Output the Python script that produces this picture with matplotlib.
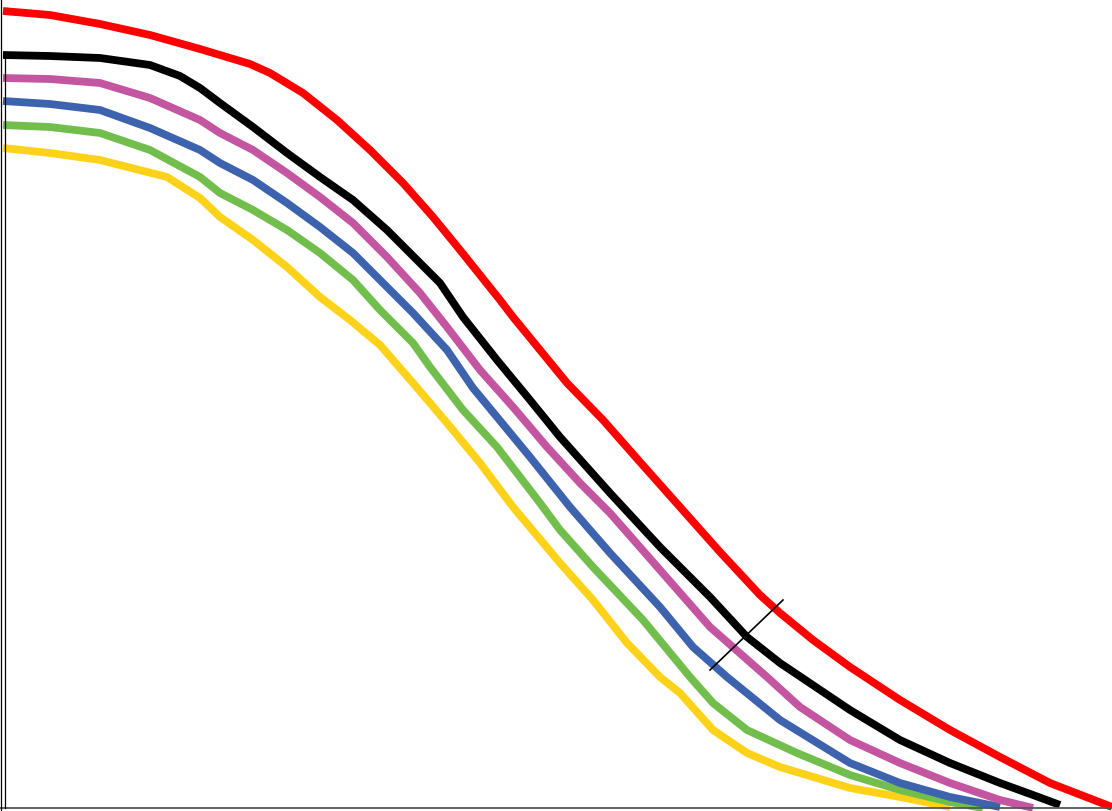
import numpy as np
import matplotlib.pyplot as plt

# pixel positions: x across, y down from the top
red_x = [3, 50, 100, 150, 200, 220, 250, 270, 303, 337, 370, 403, 433, 460, 500, 513, 567, 603, 640, 680, 720, 760, 780, 813, 850, 900, 950, 1000, 1050, 1112]
red_py = [11, 15, 24, 35, 49, 55, 64, 73, 93, 120, 150, 183, 217, 250, 300, 317, 383, 420, 462, 507, 552, 595, 613, 640, 667, 700, 730, 757, 783, 807]

black_x = [3, 50, 100, 150, 180, 200, 220, 253, 287, 320, 353, 387, 420, 440, 463, 497, 530, 560, 610, 660, 710, 747, 780, 850, 900, 950, 1000, 1033, 1060]
black_py = [55, 56, 58, 65, 76, 88, 103, 127, 153, 177, 200, 230, 263, 283, 317, 360, 400, 437, 493, 547, 597, 637, 663, 710, 740, 763, 783, 795, 805]

pink_x = [3, 50, 100, 150, 200, 220, 253, 287, 320, 353, 387, 420, 447, 480, 513, 547, 580, 610, 660, 710, 767, 800, 850, 900, 950, 1000, 1033]
pink_py = [78, 79, 83, 98, 120, 133, 150, 173, 197, 223, 257, 293, 327, 370, 407, 447, 483, 513, 570, 627, 677, 707, 740, 763, 783, 800, 808]

blue_x = [3, 50, 100, 150, 200, 220, 253, 287, 320, 353, 387, 413, 447, 473, 497, 530, 570, 610, 660, 693, 727, 780, 850, 900, 950, 1000]
blue_py = [101, 104, 110, 128, 150, 163, 180, 203, 227, 253, 287, 313, 350, 388, 417, 457, 507, 553, 607, 647, 677, 720, 763, 783, 797, 807]

green_x = [3, 50, 100, 150, 200, 220, 253, 287, 320, 353, 380, 413, 430, 463, 497, 540, 560, 593, 643, 690, 713, 747, 797, 850, 900, 950, 983]
green_py = [125, 127, 133, 150, 177, 193, 210, 230, 253, 280, 310, 343, 367, 410, 447, 503, 530, 567, 620, 677, 703, 730, 753, 775, 790, 802, 808]

yellow_x = [3, 50, 100, 167, 200, 220, 253, 287, 320, 350, 380, 413, 447, 480, 513, 560, 593, 627, 660, 680, 713, 747, 780, 850, 900, 950]
yellow_py = [148, 153, 160, 177, 198, 217, 240, 267, 297, 320, 345, 383, 423, 463, 507, 563, 600, 643, 677, 693, 730, 753, 767, 788, 797, 807]

# thin marker segment across the curves
seg_x = [710, 783]
seg_py = [670, 600]

base = 808  # baseline row of the chart


def h(py):
    return [base - v for v in py]


fig = plt.figure(figsize=(11.12, 8.11), dpi=100)
ax = fig.add_axes([0, 0, 1, 1])

lw = 5.6
style = dict(lw=lw, solid_joinstyle='round', solid_capstyle='butt')
ax.plot(red_x, h(red_py), color='#FF0000', **style)
ax.plot(yellow_x, h(yellow_py), color='#FFD21A', **style)
ax.plot(green_x, h(green_py), color='#72BE4C', **style)
ax.plot(blue_x, h(blue_py), color='#3D62AE', **style)
ax.plot(pink_x, h(pink_py), color='#C455A0', **style)
ax.plot(black_x, h(black_py), color='black', **style)

ax.plot(seg_x, h(seg_py), color='black', lw=1.2)

# axis lines
ax.axhline(0, color='#555555', lw=1.3)
ax.axvline(1, color='black', lw=0.9)
ax.plot([5, 5], [0, base - black_py[0]], color='black', lw=0.9)

ax.set_xlim(0, 1112)
ax.set_ylim(-3, 808)
ax.axis('off')

fig.savefig('out.png', dpi=100)
